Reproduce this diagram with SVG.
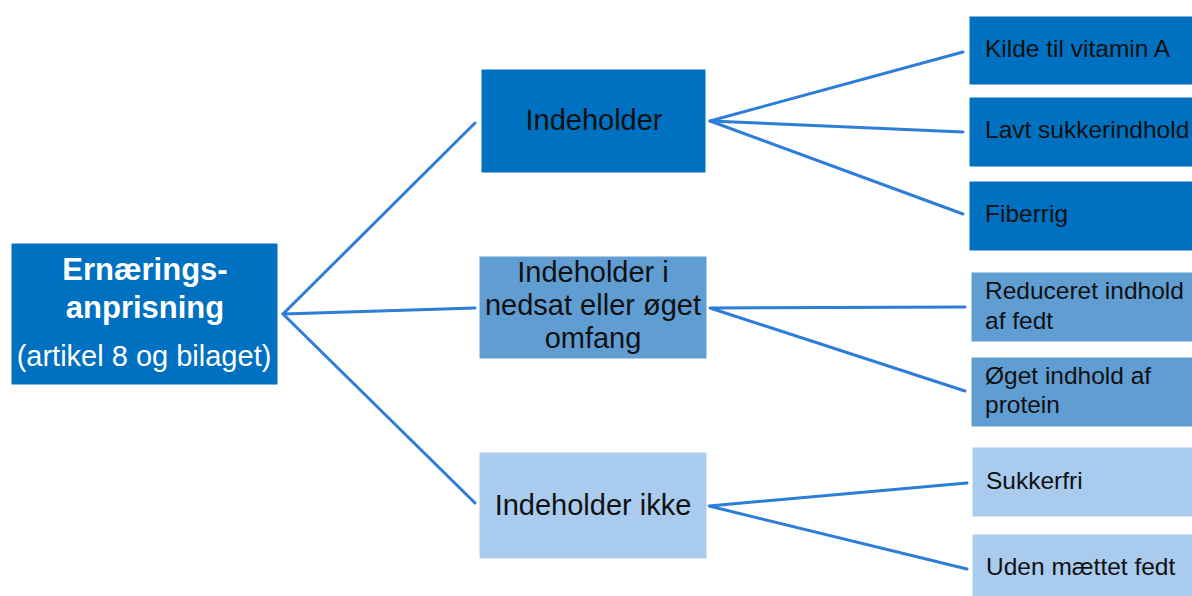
<svg xmlns="http://www.w3.org/2000/svg" width="1192" height="596" viewBox="0 0 1192 596">
  <style>
    .dark { fill: #0070C0; }
    .mid { fill: #5F9DD3; }
    .light { fill: #A9CBEE; }
    .box { stroke: #FFFFFF; stroke-width: 1; }
    .lbl { font-family: "Liberation Sans", Arial, sans-serif; fill: #111111; }
    .l2 { font-size: 29px; text-anchor: middle; }
    .l3 { font-size: 24.5px; }
    .root { font-family: "Liberation Sans", Arial, sans-serif; fill: #FFFFFF; text-anchor: middle; }
    .conn { stroke: #2E7DD6; stroke-width: 3; fill: none; stroke-linejoin: round; stroke-linecap: round; }
  </style>

  <rect width="1192" height="596" fill="#FFFFFF"/>

  <!-- connectors -->
  <g id="connectors">
    <polyline class="conn" points="475,123 283,314 475,308"/>
    <line class="conn" x1="283" y1="314" x2="475" y2="503"/>
    <polyline class="conn" points="963,52 710,121 963,132"/>
    <line class="conn" x1="710" y1="121" x2="963" y2="214"/>
    <polyline class="conn" points="965,307 710,308 965,391"/>
    <polyline class="conn" points="967,483 709,506 967,569"/>
  </g>

  <!-- root -->
  <g id="root">
    <rect class="dark box" x="11" y="243" width="267" height="142"/>
    <text class="root" x="145" y="280" font-size="31" font-weight="bold">Ernærings-</text>
    <text class="root" x="145" y="318" font-size="31" font-weight="bold">anprisning</text>
    <text class="root" x="144" y="366" font-size="29">(artikel 8 og bilaget)</text>
  </g>

  <!-- second level -->
  <g id="indeholder">
    <rect class="dark box" x="481" y="69" width="225" height="104"/>
    <text class="lbl l2" x="594" y="130">Indeholder</text>
  </g>
  <g id="nedsat-oeget">
    <rect class="mid box" x="479" y="256" width="228" height="103"/>
    <text class="lbl l2" x="593" y="282">Indeholder i</text>
    <text class="lbl l2" x="593" y="315">nedsat eller øget</text>
    <text class="lbl l2" x="593" y="348">omfang</text>
  </g>
  <g id="indeholder-ikke">
    <rect class="light box" x="479" y="452" width="228" height="107"/>
    <text class="lbl l2" x="593" y="515">Indeholder ikke</text>
  </g>

  <!-- third level -->
  <g id="vitamin-a">
    <rect class="dark box" x="969" y="16" width="230" height="69"/>
    <text class="lbl l3" x="985" y="57">Kilde til vitamin A</text>
  </g>
  <g id="lavt-sukker">
    <rect class="dark box" x="969" y="97" width="230" height="70"/>
    <text class="lbl l3" x="985" y="138">Lavt sukkerindhold</text>
  </g>
  <g id="fiberrig">
    <rect class="dark box" x="969" y="181" width="230" height="70"/>
    <text class="lbl l3" x="985" y="222">Fiberrig</text>
  </g>
  <g id="reduceret-fedt">
    <rect class="mid box" x="971" y="272" width="228" height="70"/>
    <text class="lbl l3" x="985" y="299">Reduceret indhold</text>
    <text class="lbl l3" x="985" y="329">af fedt</text>
  </g>
  <g id="oeget-protein">
    <rect class="mid box" x="971" y="357" width="228" height="70"/>
    <text class="lbl l3" x="985" y="384">Øget indhold af</text>
    <text class="lbl l3" x="985" y="413">protein</text>
  </g>
  <g id="sukkerfri">
    <rect class="light box" x="972" y="447" width="227" height="70"/>
    <text class="lbl l3" x="986" y="489">Sukkerfri</text>
  </g>
  <g id="uden-maettet">
    <rect class="light box" x="972" y="534" width="227" height="70"/>
    <text class="lbl l3" x="986" y="575">Uden mættet fedt</text>
  </g>
</svg>
